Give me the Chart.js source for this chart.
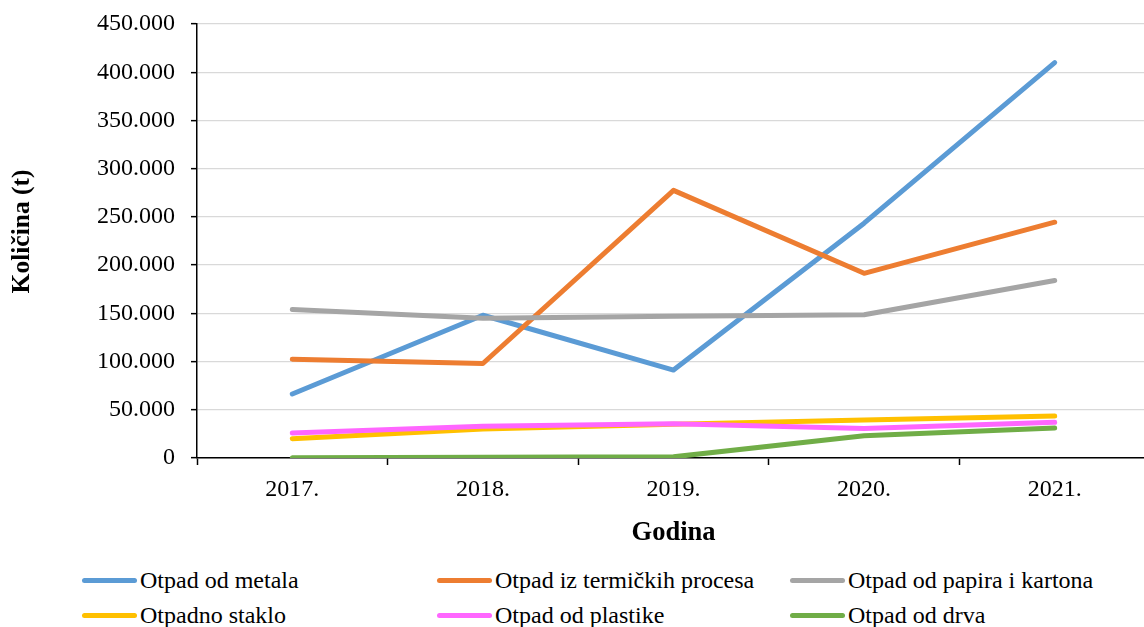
<!DOCTYPE html>
<html>
<head>
<meta charset="utf-8">
<script src="https://cdn.jsdelivr.net/npm/chart.js@4/dist/chart.umd.min.js"></script>
<style>
    html, body { margin: 0; padding: 0; background: #fff; overflow: hidden; }
    #wrap { position: relative; width: 1144px; height: 627px; overflow: hidden; }
    #box { position: absolute; left: 0; top: 0; width: 1160px; height: 560px; }
    #legend { position: absolute; left: 0; top: 565px; width: 1144px; font-family: "Liberation Serif", "Times New Roman", serif; font-size: 24px; color: #000; }
    .item { position: absolute; display: flex; align-items: center; white-space: nowrap; line-height: 30px; }
    .swatch { width: 55px; height: 5px; border-radius: 3px; margin-right: 3px; }
</style>
</head>
<body>
<div id="wrap">
    <div id="box"><canvas id="wasteChart"></canvas></div>
    <div id="legend"></div>
</div>
<script>
// Količina otpada po godinama (t)
const years = ['2017.', '2018.', '2019.', '2020.', '2021.'];
const seriesNames = ['Otpad od metala', 'Otpad iz termičkih procesa', 'Otpad od papira i kartona',
    'Otpadno staklo', 'Otpad od plastike', 'Otpad od drva'];
const metal = [66400, 148000, 91200, 243500, 410000];
const thermal = [102500, 98000, 277500, 191500, 244500];
const paper = [154000, 145000, 147000, 148500, 184000];
const glass = [20000, 30000, 35000, 39500, 43500];
const plastic = [25800, 33000, 35500, 30500, 37000];
const wood = [300, 800, 1200, 23000, 31000];
const yTicks = [0, 50000, 100000, 150000, 200000, 250000, 300000, 350000, 400000, 450000];

const colors = ['#5B9BD5', '#ED7D31', '#A5A5A5', '#FFC000', '#FF66FF', '#70AD47'];
const values = [metal, thermal, paper, glass, plastic, wood];

function formatThousands(v) {
    return String(v).replace(/\B(?=(\d{3})+(?!\d))/g, '.');
}

const fontFamily = '"Liberation Serif", "Times New Roman", serif';

document.addEventListener('DOMContentLoaded', function() {
    const ctx = document.getElementById('wasteChart').getContext('2d');

    const datasets = values.map(function(data, i) {
        return {
            label: seriesNames[i],
            data: data,
            borderColor: colors[i],
            backgroundColor: colors[i],
            borderWidth: 5,
            borderCapStyle: 'round',
            borderJoinStyle: 'round',
            pointRadius: 0,
            tension: 0,
            fill: false,
            order: values.length - i
        };
    });

    new Chart(ctx, {
        type: 'line',
        data: { labels: years, datasets: datasets },
        options: {
            responsive: true,
            maintainAspectRatio: false,
            animation: false,
            layout: { padding: { top: 24, right: 10, bottom: 0, left: 0 } },
            plugins: {
                legend: { display: false },
                tooltip: { enabled: false }
            },
            scales: {
                x: {
                    offset: true,
                    grid: {
                        offset: true,
                        drawOnChartArea: false,
                        drawTicks: true,
                        tickLength: 7,
                        tickColor: '#000',
                        tickWidth: 1.5
                    },
                    border: { display: true, color: '#000', width: 1.5 },
                    ticks: {
                        color: '#000',
                        padding: 10,
                        font: { family: fontFamily, size: 24 }
                    },
                    title: {
                        display: true,
                        text: 'Godina',
                        color: '#000',
                        padding: { top: 4, bottom: 11 },
                        font: { family: fontFamily, size: 26.5, weight: 'bold' }
                    },
                    afterFit: function(scale) { scale.height = 102; }
                },
                y: {
                    min: 0,
                    max: 450000,
                    afterBuildTicks: function(scale) {
                        scale.ticks = yTicks.map(function(v) { return { value: v }; });
                    },
                    grid: {
                        color: '#D9D9D9',
                        lineWidth: 1.3,
                        drawTicks: true,
                        tickLength: 6,
                        tickColor: '#000',
                        tickWidth: 1.5
                    },
                    border: { display: true, color: '#000', width: 1.5 },
                    ticks: {
                        color: '#000',
                        padding: 16,
                        font: { family: fontFamily, size: 24 },
                        callback: function(v) { return formatThousands(v); }
                    },
                    title: {
                        display: true,
                        // leading spaces nudge the rotated title up a little
                        text: '\u00A0\u00A0\u00A0Količina (t)',
                        color: '#000',
                        padding: { top: 7, bottom: 0 },
                        font: { family: fontFamily, size: 25.5, weight: 'bold' }
                    },
                    afterFit: function(scale) {
                        scale.width = 197;
                        scale.paddingTop = 0;
                        scale.paddingBottom = 0;
                    }
                }
            }
        }
    });

    // Legend in three fixed columns, like the original
    const legend = document.getElementById('legend');
    const colX = [82, 437, 790];
    seriesNames.forEach(function(name, i) {
        const item = document.createElement('div');
        item.className = 'item';
        item.style.left = colX[i % 3] + 'px';
        item.style.top = (Math.floor(i / 3) * 35) + 'px';
        item.innerHTML = '<span class="swatch" style="background:' + colors[i] + '"></span>' + name;
        legend.appendChild(item);
    });
});
</script>
</body>
</html>
